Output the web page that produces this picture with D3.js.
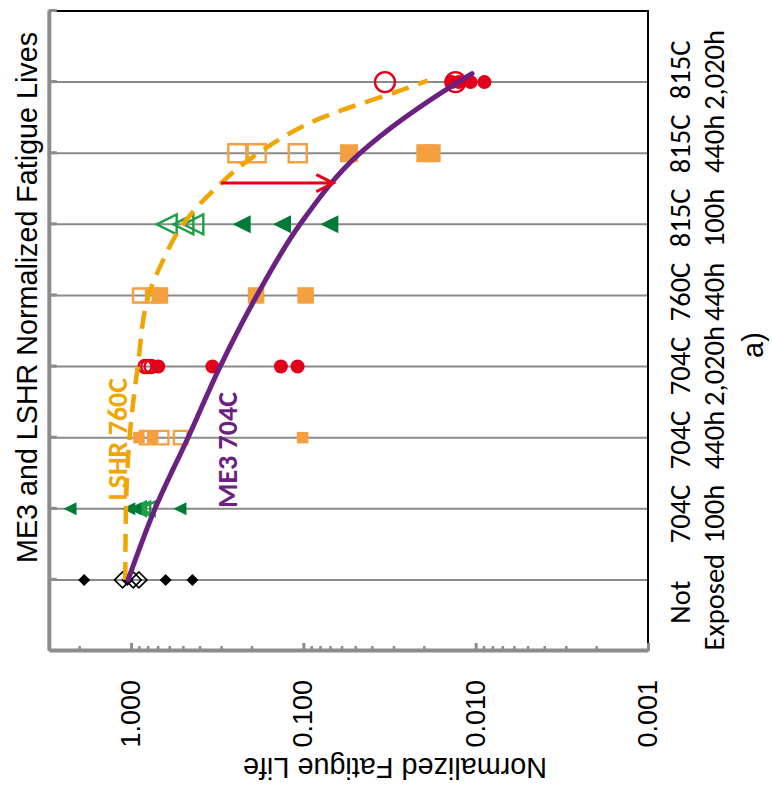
<!DOCTYPE html>
<html>
<head>
<meta charset="utf-8">
<script src="https://cdn.jsdelivr.net/npm/d3@7"></script>
<style>
  body { margin: 0; background: #fff; }
  svg { display: block; }
</style>
</head>
<body>
<svg id="chart" width="772" height="787"></svg>
<script>
// Exposure conditions, one per integer position 1..8 (two-line labels)
const conditions = [
  ["Not", "Exposed"], ["704C", "100h"], ["704C", "440h"], ["704C", "2,020h"],
  ["760C", "440h"], ["815C", "100h"], ["815C", "440h"], ["815C", "2,020h"]
];

// Normalized fatigue lives per condition – ME3 specimens (filled markers)
const me3Lives = [
  [1.87, 1.05, 0.63, 0.44],
  [2.26, 1.03, 0.95, 0.52],
  [0.90, 0.748, 0.101],
  [0.695, 0.337, 0.135, 0.108],
  [0.68, 0.188, 0.097],
  [0.228, 0.133, 0.0706],
  [0.0543, 0.0196, 0.0180],
  [0.0138, 0.0125, 0.0107, 0.0089]
];

// Normalized fatigue lives per condition – LSHR specimens (open markers)
const lshrLives = [
  [1.12, 0.97, 0.90],
  [0.90, 0.85, 0.80],
  [0.811, 0.664, 0.515],
  [0.83, 0.80, 0.765],
  [0.887, 0.745],
  [0.621, 0.497, 0.435],
  [0.2415, 0.1865, 0.1078],
  [0.0336, 0.0131]
];

// Trend curves: [position, normalized life]
const me3Trend = [[1, 1.04], [2, 0.726], [3, 0.467], [4, 0.304], [5, 0.186],
  [6, 0.1045], [7, 0.0469], [8, 0.01265], [8.12, 0.0105]];
const lshrTrend = [[1, 1.08], [2, 1.07], [3, 1.02], [4, 0.914], [5, 0.79],
  [5.5, 0.65], [6, 0.50], [6.5, 0.325], [7, 0.183], [7.5, 0.078], [7.9, 0.026], [8.02, 0.019]];

// Life debit arrow from the LSHR curve to the ME3 curve
const shiftArrow = { pos: 6.58, from: 0.30, to: 0.067 };

// Labelled decades on the life axis
const valueTicks = [1, 0.1, 0.01, 0.001];

// Marker appearance per condition
const markerStyle = [
  { shape: "diamond",  fill: "#000000", open: "#000000", me3: 12,   lshr: 16 },
  { shape: "triangle", fill: "#007a37", open: "#1c9e46", me3: 13,   lshr: 14 },
  { shape: "square",   fill: "#f4a040", open: "#f4a040", me3: 11.5, lshr: 13.5 },
  { shape: "circle",   fill: "#e2001a", open: "#e2001a", me3: 14,   lshr: 13 },
  { shape: "square",   fill: "#f4a040", open: "#f4a040", me3: 16.5, lshr: 14 },
  { shape: "triangle", fill: "#007a37", open: "#1c9e46", me3: 18,   lshr: 20 },
  { shape: "square",   fill: "#f4a040", open: "#f4a040", me3: 18,   lshr: 18 },
  { shape: "circle",   fill: "#e2001a", open: "#e2001a", me3: 14,   lshr: 20 }
];

const SANS = "'Liberation Sans', Arial, sans-serif";
const HUMAN = "Carlito, Calibri, Lato, sans-serif";
const PURPLE = "#6b2180", AMBER = "#f1a500", RED = "#e2001a", GREY = "#8c8c8c";

// The chart is laid out in its own frame (width 787, height 772) and turned
// a quarter turn counter-clockwise onto the 772 x 787 page.
const FRAME_W = 787;
const svg = d3.select("#chart");
const root = svg.append("g").attr("transform", `translate(0,${FRAME_W}) rotate(-90)`);

const plot = { left: 136, right: 776, top: 48.8, bottom: 648 };
const x = d3.scaleLinear().domain([0, 9]).range([plot.left, plot.right]);
const y = d3.scaleLog().domain([0.001, 3]).range([plot.bottom, plot.top]);

// Gridlines at each condition
root.append("g").selectAll("line").data(d3.range(1, 9)).join("line")
  .attr("x1", d => x(d)).attr("x2", d => x(d))
  .attr("y1", plot.top).attr("y2", plot.bottom)
  .attr("stroke", "#8a8a8a").attr("stroke-width", 2);

// Frame edges opposite the axes
root.append("path")
  .attr("d", `M${plot.left},${plot.bottom}H${plot.right}V${plot.top}`)
  .attr("fill", "none").attr("stroke", "#000").attr("stroke-width", 2);

// Marker shapes centred on their bounding box
function markerPath(shape, s) {
  const h = s / 2;
  switch (shape) {
    case "circle":  return `M${-h},0A${h},${h} 0 1,0 ${h},0A${h},${h} 0 1,0 ${-h},0Z`;
    case "square":  return `M${-h},${-h}H${h}V${h}H${-h}Z`;
    case "diamond": return `M0,${-h}L${h},0L0,${h}L${-h},0Z`;
    case "triangle":return `M0,${-h}L${h},${h}L${-h},${h}Z`;
  }
}

const lshrPts = lshrLives.flatMap((vals, i) => vals.map(v => ({ pos: i + 1, v, st: markerStyle[i] })));
const me3Pts = me3Lives.flatMap((vals, i) => vals.map(v => ({ pos: i + 1, v, st: markerStyle[i] })));

root.append("g").selectAll("path").data(lshrPts).join("path")
  .attr("d", d => markerPath(d.st.shape, d.st.lshr))
  .attr("transform", d => `translate(${x(d.pos)},${y(d.v)})`)
  .attr("fill", "none")
  .attr("stroke", d => d.st.open)
  .attr("stroke-width", d => d.st.shape === "diamond" ? 1.6 : 2.4);

root.append("g").selectAll("path").data(me3Pts).join("path")
  .attr("d", d => markerPath(d.st.shape, d.st.me3))
  .attr("transform", d => `translate(${x(d.pos)},${y(d.v)})`)
  .attr("fill", d => d.st.fill);

// Trend curves
const curve = d3.line().x(d => x(d[0])).y(d => y(d[1])).curve(d3.curveMonotoneX);
root.append("path").attr("d", curve(lshrTrend))
  .attr("fill", "none").attr("stroke", AMBER).attr("stroke-width", 4.5)
  .attr("stroke-dasharray", "18,10");
root.append("path").attr("d", curve(me3Trend))
  .attr("fill", "none").attr("stroke", PURPLE).attr("stroke-width", 5)
  .attr("stroke-linecap", "round");

// Arrow
{
  const ax = x(shiftArrow.pos), y0 = y(shiftArrow.from), y1 = y(shiftArrow.to);
  root.append("path")
    .attr("d", `M${ax},${y0}V${y1}M${ax - 8.5},${y1 - 17}L${ax},${y1}L${ax + 8.5},${y1 - 17}`)
    .attr("fill", "none").attr("stroke", RED).attr("stroke-width", 3);
}

// Condition axis (no labels; drawn along the high-life edge)
root.append("g").attr("transform", `translate(0,${plot.top})`)
  .call(d3.axisTop(x).tickValues(d3.range(1, 10)).tickSize(-8).tickSizeOuter(0).tickFormat(""))
  .call(g => {
    g.select(".domain").attr("stroke", GREY).attr("stroke-width", 4);
    g.selectAll(".tick line").attr("stroke", GREY).attr("stroke-width", 3);
  });

// Life axis: minor ticks, then labelled decades
const minorTicks = y.ticks().filter(t => !valueTicks.some(m => Math.abs(m - t) < 1e-9));
root.append("g").attr("transform", `translate(${plot.left},0)`)
  .call(d3.axisLeft(y).tickValues(minorTicks).tickSize(-5).tickSizeOuter(0).tickFormat(""))
  .call(g => {
    g.select(".domain").remove();
    g.selectAll(".tick line").attr("stroke", GREY).attr("stroke-width", 2.5);
  });
root.append("g").attr("transform", `translate(${plot.left},0)`)
  .call(d3.axisLeft(y).tickValues(valueTicks).tickSize(-8).tickSizeOuter(0)
    .tickPadding(29).tickFormat(d3.format(".3f")))
  .call(g => {
    g.select(".domain").attr("stroke", GREY).attr("stroke-width", 4);
    g.selectAll(".tick line").attr("stroke", GREY).attr("stroke-width", 3);
    g.selectAll(".tick text").attr("font-family", SANS).attr("font-size", 27).attr("fill", "#000");
  });

// Condition labels: spread slightly wider than the gridlines; the first
// (widest) label sits a little lower so its second line clears the next one
const labelStart = 0.886, labelStep = 1.0408, firstLabelNudge = -0.2;
const labelPos = i => labelStart + i * labelStep + (i === 0 ? firstLabelNudge : 0);
const lab = root.append("g").attr("font-family", HUMAN).attr("font-size", 28.5)
  .attr("text-anchor", "middle").attr("fill", "#000");
lab.selectAll("g").data(conditions).join("g")
  .each(function (d, i) {
    const cx = x(labelPos(i));
    d3.select(this).selectAll("text").data(d).join("text")
      .attr("x", cx).attr("y", (t, j) => j === 0 ? 690 : 724)
      .text(t => t);
  });

// Titles
root.append("text").attr("x", 489.5).attr("y", 37.3)
  .attr("text-anchor", "middle").attr("font-family", SANS).attr("font-size", 28.7)
  .text("ME3 and LSHR Normalized Fatigue Lives");

root.append("text").attr("transform", "translate(29,395) rotate(-90)")
  .attr("text-anchor", "middle").attr("font-family", SANS).attr("font-size", 28.8)
  .text("Normalized Fatigue Life");

root.append("text").attr("x", 442).attr("y", 763)
  .attr("text-anchor", "middle").attr("font-family", SANS).attr("font-size", 29)
  .text("a)");

// Curve annotations
root.append("text").attr("x", 348).attr("y", 127)
  .attr("text-anchor", "middle").attr("font-family", HUMAN).attr("font-weight", "bold")
  .attr("font-size", 28).attr("fill", AMBER).text("LSHR 760C");
root.append("text").attr("x", 337).attr("y", 237)
  .attr("text-anchor", "middle").attr("font-family", HUMAN).attr("font-weight", "bold")
  .attr("font-size", 28).attr("fill", PURPLE).text("ME3 704C");
</script>
</body>
</html>
